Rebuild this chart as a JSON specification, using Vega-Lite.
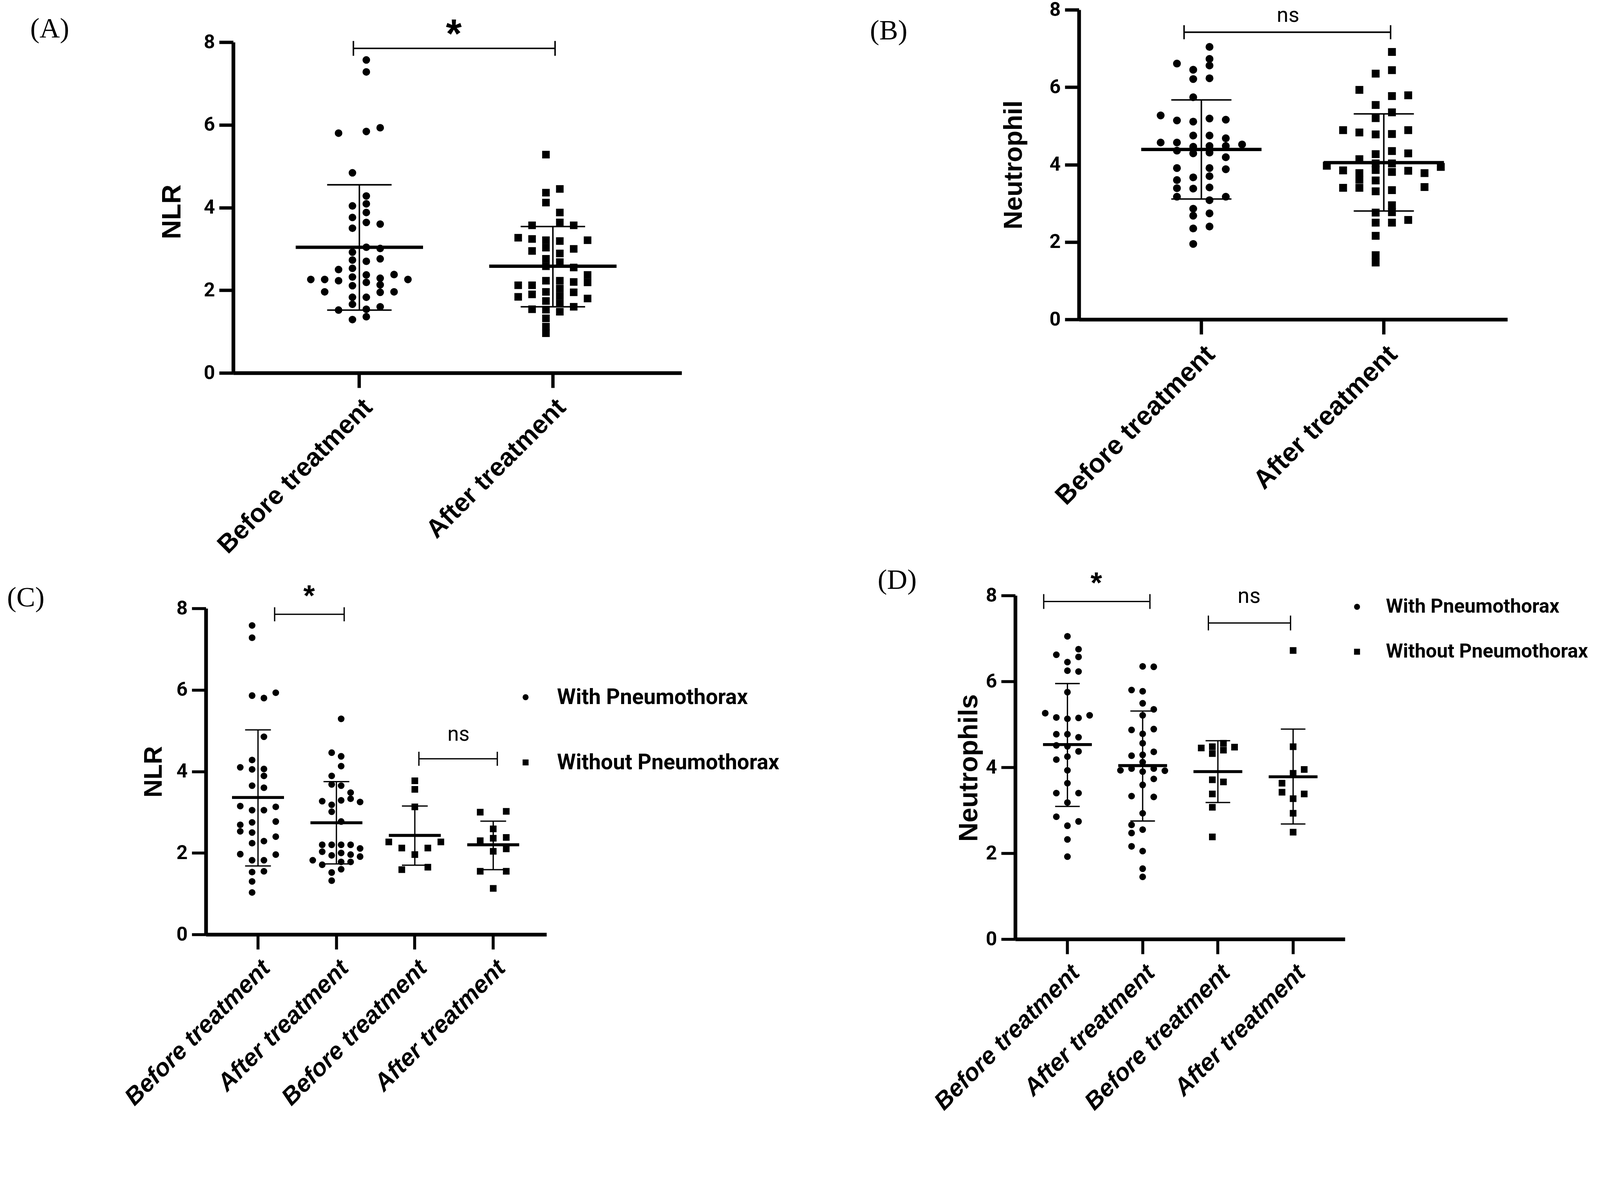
{
"$schema":"https://vega.github.io/schema/vega-lite/v6.json",
"width":4100,"height":2890,"autosize":{"type":"none"},"padding":0,"background":"white",
"config":{"view":{"stroke":null},"axis":{"grid":false,"domainColor":"black","tickColor":"black","labelColor":"black","titleColor":"black"},"legend":{"padding":0},"tick":{"opacity":1},"point":{"opacity":1}},
"datasets":{
"A":[
{"cat":"Before treatment","slot":0.5,"value":7.57},{"cat":"Before treatment","slot":0.5,"value":7.28},{"cat":"Before treatment","slot":-1.5,"value":5.80},{"cat":"Before treatment","slot":0.5,"value":5.84},{"cat":"Before treatment","slot":1.5,"value":5.93},{"cat":"Before treatment","slot":-0.5,"value":4.84},{"cat":"Before treatment","slot":0.5,"value":4.28},{"cat":"Before treatment","slot":-0.5,"value":4.04},{"cat":"Before treatment","slot":0.5,"value":4.09},{"cat":"Before treatment","slot":0.5,"value":3.88},{"cat":"Before treatment","slot":-0.5,"value":3.76},{"cat":"Before treatment","slot":0.5,"value":3.64},{"cat":"Before treatment","slot":1.5,"value":3.60},{"cat":"Before treatment","slot":-0.5,"value":3.50},{"cat":"Before treatment","slot":0.5,"value":3.04},{"cat":"Before treatment","slot":1.5,"value":3.01},{"cat":"Before treatment","slot":-0.5,"value":2.92},{"cat":"Before treatment","slot":-0.5,"value":2.73},{"cat":"Before treatment","slot":0.5,"value":2.70},{"cat":"Before treatment","slot":1.5,"value":2.76},{"cat":"Before treatment","slot":-1.5,"value":2.50},{"cat":"Before treatment","slot":-0.5,"value":2.53},{"cat":"Before treatment","slot":2.5,"value":2.38},{"cat":"Before treatment","slot":0.5,"value":2.37},{"cat":"Before treatment","slot":-3.5,"value":2.26},{"cat":"Before treatment","slot":-2.5,"value":2.26},{"cat":"Before treatment","slot":-1.5,"value":2.23},{"cat":"Before treatment","slot":-0.5,"value":2.32},{"cat":"Before treatment","slot":1.5,"value":2.29},{"cat":"Before treatment","slot":3.5,"value":2.26},{"cat":"Before treatment","slot":0.5,"value":2.19},{"cat":"Before treatment","slot":-0.5,"value":2.11},{"cat":"Before treatment","slot":1.5,"value":2.13},{"cat":"Before treatment","slot":-2.5,"value":1.96},{"cat":"Before treatment","slot":1.5,"value":1.95},{"cat":"Before treatment","slot":2.5,"value":1.96},{"cat":"Before treatment","slot":-0.5,"value":1.83},{"cat":"Before treatment","slot":0.5,"value":1.83},{"cat":"Before treatment","slot":-0.5,"value":1.66},{"cat":"Before treatment","slot":1.5,"value":1.60},{"cat":"Before treatment","slot":-1.5,"value":1.52},{"cat":"Before treatment","slot":0.5,"value":1.54},{"cat":"Before treatment","slot":-0.5,"value":1.29},{"cat":"Before treatment","slot":0.5,"value":1.36},
{"cat":"After treatment","slot":-0.5,"value":5.28},{"cat":"After treatment","slot":0.5,"value":4.45},{"cat":"After treatment","slot":-0.5,"value":4.36},{"cat":"After treatment","slot":-0.5,"value":4.12},{"cat":"After treatment","slot":0.5,"value":3.88},{"cat":"After treatment","slot":0.5,"value":3.64},{"cat":"After treatment","slot":-1.5,"value":3.57},{"cat":"After treatment","slot":1.5,"value":3.57},{"cat":"After treatment","slot":-2.5,"value":3.27},{"cat":"After treatment","slot":-1.5,"value":3.24},{"cat":"After treatment","slot":-0.5,"value":3.21},{"cat":"After treatment","slot":0.5,"value":3.19},{"cat":"After treatment","slot":2.5,"value":3.21},{"cat":"After treatment","slot":-0.5,"value":3.03},{"cat":"After treatment","slot":1.5,"value":3.00},{"cat":"After treatment","slot":-1.5,"value":2.95},{"cat":"After treatment","slot":0.5,"value":2.89},{"cat":"After treatment","slot":-0.5,"value":2.76},{"cat":"After treatment","slot":0.5,"value":2.68},{"cat":"After treatment","slot":-0.5,"value":2.58},{"cat":"After treatment","slot":1.5,"value":2.55},{"cat":"After treatment","slot":2.5,"value":2.37},{"cat":"After treatment","slot":2.5,"value":2.19},{"cat":"After treatment","slot":-0.5,"value":2.23},{"cat":"After treatment","slot":0.5,"value":2.23},{"cat":"After treatment","slot":1.5,"value":2.20},{"cat":"After treatment","slot":-2.5,"value":2.12},{"cat":"After treatment","slot":-1.5,"value":2.12},{"cat":"After treatment","slot":0.5,"value":2.04},{"cat":"After treatment","slot":-0.5,"value":1.96},{"cat":"After treatment","slot":1.5,"value":1.95},{"cat":"After treatment","slot":0.5,"value":1.86},{"cat":"After treatment","slot":-2.5,"value":1.84},{"cat":"After treatment","slot":-1.5,"value":1.90},{"cat":"After treatment","slot":2.5,"value":1.80},{"cat":"After treatment","slot":-0.5,"value":1.74},{"cat":"After treatment","slot":0.5,"value":1.68},{"cat":"After treatment","slot":1.5,"value":1.60},{"cat":"After treatment","slot":-1.5,"value":1.54},{"cat":"After treatment","slot":-0.5,"value":1.53},{"cat":"After treatment","slot":0.5,"value":1.48},{"cat":"After treatment","slot":-0.5,"value":1.32},{"cat":"After treatment","slot":-0.5,"value":1.12},{"cat":"After treatment","slot":-0.5,"value":0.96}
],
"Asum":[{"cat":"Before treatment","mean":3.04,"lo":1.52,"hi":4.55},{"cat":"After treatment","mean":2.58,"lo":1.60,"hi":3.54}],
"Abr":[{"x1":0.969,"x2":2.011,"y":7.85,"tx":1.488,"ty":7.87,"label":"*"}],
"B":[
{"cat":"Before treatment","slot":0.5,"value":7.04},{"cat":"Before treatment","slot":0.5,"value":6.73},{"cat":"Before treatment","slot":-1.5,"value":6.61},{"cat":"Before treatment","slot":0.5,"value":6.56},{"cat":"Before treatment","slot":-0.5,"value":6.45},{"cat":"Before treatment","slot":-0.5,"value":6.21},{"cat":"Before treatment","slot":0.5,"value":6.23},{"cat":"Before treatment","slot":-0.5,"value":5.74},{"cat":"Before treatment","slot":-2.5,"value":5.27},{"cat":"Before treatment","slot":-1.5,"value":5.14},{"cat":"Before treatment","slot":-0.5,"value":5.11},{"cat":"Before treatment","slot":0.5,"value":5.19},{"cat":"Before treatment","slot":1.5,"value":5.16},{"cat":"Before treatment","slot":-0.5,"value":4.75},{"cat":"Before treatment","slot":0.5,"value":4.75},{"cat":"Before treatment","slot":1.5,"value":4.68},{"cat":"Before treatment","slot":-2.5,"value":4.57},{"cat":"Before treatment","slot":-1.5,"value":4.57},{"cat":"Before treatment","slot":2.5,"value":4.52},{"cat":"Before treatment","slot":-0.5,"value":4.46},{"cat":"Before treatment","slot":0.5,"value":4.48},{"cat":"Before treatment","slot":1.5,"value":4.48},{"cat":"Before treatment","slot":-1.5,"value":4.36},{"cat":"Before treatment","slot":-0.5,"value":4.29},{"cat":"Before treatment","slot":0.5,"value":4.31},{"cat":"Before treatment","slot":1.5,"value":4.19},{"cat":"Before treatment","slot":-1.5,"value":3.91},{"cat":"Before treatment","slot":0.5,"value":3.91},{"cat":"Before treatment","slot":1.5,"value":3.88},{"cat":"Before treatment","slot":-0.5,"value":3.67},{"cat":"Before treatment","slot":0.5,"value":3.70},{"cat":"Before treatment","slot":-1.5,"value":3.60},{"cat":"Before treatment","slot":-1.5,"value":3.39},{"cat":"Before treatment","slot":-0.5,"value":3.38},{"cat":"Before treatment","slot":0.5,"value":3.41},{"cat":"Before treatment","slot":-1.5,"value":3.17},{"cat":"Before treatment","slot":1.5,"value":3.17},{"cat":"Before treatment","slot":0.5,"value":3.08},{"cat":"Before treatment","slot":-0.5,"value":2.86},{"cat":"Before treatment","slot":-0.5,"value":2.68},{"cat":"Before treatment","slot":0.5,"value":2.74},{"cat":"Before treatment","slot":-0.5,"value":2.35},{"cat":"Before treatment","slot":0.5,"value":2.40},{"cat":"Before treatment","slot":-0.5,"value":1.95},
{"cat":"After treatment","slot":0.5,"value":6.91},{"cat":"After treatment","slot":0.5,"value":6.44},{"cat":"After treatment","slot":-0.5,"value":6.35},{"cat":"After treatment","slot":-1.5,"value":5.93},{"cat":"After treatment","slot":0.5,"value":5.77},{"cat":"After treatment","slot":1.5,"value":5.79},{"cat":"After treatment","slot":-0.5,"value":5.54},{"cat":"After treatment","slot":0.5,"value":5.35},{"cat":"After treatment","slot":-0.5,"value":5.20},{"cat":"After treatment","slot":-2.5,"value":4.89},{"cat":"After treatment","slot":-1.5,"value":4.83},{"cat":"After treatment","slot":1.5,"value":4.89},{"cat":"After treatment","slot":-0.5,"value":4.78},{"cat":"After treatment","slot":0.5,"value":4.79},{"cat":"After treatment","slot":-0.5,"value":4.27},{"cat":"After treatment","slot":0.5,"value":4.35},{"cat":"After treatment","slot":1.5,"value":4.29},{"cat":"After treatment","slot":-1.5,"value":4.14},{"cat":"After treatment","slot":-0.5,"value":4.03},{"cat":"After treatment","slot":0.5,"value":4.03},{"cat":"After treatment","slot":-3.5,"value":3.97},{"cat":"After treatment","slot":3.5,"value":3.94},{"cat":"After treatment","slot":-2.5,"value":3.85},{"cat":"After treatment","slot":-1.5,"value":3.78},{"cat":"After treatment","slot":-0.5,"value":3.86},{"cat":"After treatment","slot":0.5,"value":3.81},{"cat":"After treatment","slot":1.5,"value":3.84},{"cat":"After treatment","slot":2.5,"value":3.78},{"cat":"After treatment","slot":-1.5,"value":3.61},{"cat":"After treatment","slot":-0.5,"value":3.59},{"cat":"After treatment","slot":-2.5,"value":3.40},{"cat":"After treatment","slot":-1.5,"value":3.40},{"cat":"After treatment","slot":2.5,"value":3.42},{"cat":"After treatment","slot":-0.5,"value":3.31},{"cat":"After treatment","slot":0.5,"value":3.34},{"cat":"After treatment","slot":0.5,"value":2.95},{"cat":"After treatment","slot":-0.5,"value":2.76},{"cat":"After treatment","slot":0.5,"value":2.77},{"cat":"After treatment","slot":-0.5,"value":2.50},{"cat":"After treatment","slot":0.5,"value":2.50},{"cat":"After treatment","slot":1.5,"value":2.57},{"cat":"After treatment","slot":-0.5,"value":2.16},{"cat":"After treatment","slot":-0.5,"value":1.66},{"cat":"After treatment","slot":-0.5,"value":1.47}
],
"Bsum":[{"cat":"Before treatment","mean":4.39,"lo":3.11,"hi":5.67},{"cat":"After treatment","mean":4.05,"lo":2.80,"hi":5.31}],
"Bbr":[{"x1":0.905,"x2":2.037,"y":7.42,"tx":1.475,"ty":7.69,"label":"ns"}],
"C":[
{"cat":"With: Before treatment","group":"With Pneumothorax","slot":-0.5,"value":7.58},{"cat":"With: Before treatment","group":"With Pneumothorax","slot":-0.5,"value":7.28},{"cat":"With: Before treatment","group":"With Pneumothorax","slot":-0.5,"value":5.86},{"cat":"With: Before treatment","group":"With Pneumothorax","slot":0.5,"value":5.80},{"cat":"With: Before treatment","group":"With Pneumothorax","slot":1.5,"value":5.93},{"cat":"With: Before treatment","group":"With Pneumothorax","slot":0.5,"value":4.85},{"cat":"With: Before treatment","group":"With Pneumothorax","slot":-0.5,"value":4.28},{"cat":"With: Before treatment","group":"With Pneumothorax","slot":-1.5,"value":4.10},{"cat":"With: Before treatment","group":"With Pneumothorax","slot":-0.5,"value":4.05},{"cat":"With: Before treatment","group":"With Pneumothorax","slot":0.5,"value":4.06},{"cat":"With: Before treatment","group":"With Pneumothorax","slot":0.5,"value":3.89},{"cat":"With: Before treatment","group":"With Pneumothorax","slot":-0.5,"value":3.65},{"cat":"With: Before treatment","group":"With Pneumothorax","slot":0.5,"value":3.60},{"cat":"With: Before treatment","group":"With Pneumothorax","slot":-1.5,"value":3.15},{"cat":"With: Before treatment","group":"With Pneumothorax","slot":-0.5,"value":3.05},{"cat":"With: Before treatment","group":"With Pneumothorax","slot":0.5,"value":3.05},{"cat":"With: Before treatment","group":"With Pneumothorax","slot":1.5,"value":3.13},{"cat":"With: Before treatment","group":"With Pneumothorax","slot":-0.5,"value":2.75},{"cat":"With: Before treatment","group":"With Pneumothorax","slot":1.5,"value":2.77},{"cat":"With: Before treatment","group":"With Pneumothorax","slot":-1.5,"value":2.69},{"cat":"With: Before treatment","group":"With Pneumothorax","slot":-1.5,"value":2.53},{"cat":"With: Before treatment","group":"With Pneumothorax","slot":-0.5,"value":2.50},{"cat":"With: Before treatment","group":"With Pneumothorax","slot":1.5,"value":2.40},{"cat":"With: Before treatment","group":"With Pneumothorax","slot":0.5,"value":2.29},{"cat":"With: Before treatment","group":"With Pneumothorax","slot":-0.5,"value":2.24},{"cat":"With: Before treatment","group":"With Pneumothorax","slot":-1.5,"value":1.97},{"cat":"With: Before treatment","group":"With Pneumothorax","slot":1.5,"value":1.96},{"cat":"With: Before treatment","group":"With Pneumothorax","slot":-0.5,"value":1.82},{"cat":"With: Before treatment","group":"With Pneumothorax","slot":0.5,"value":1.82},{"cat":"With: Before treatment","group":"With Pneumothorax","slot":-0.5,"value":1.53},{"cat":"With: Before treatment","group":"With Pneumothorax","slot":0.5,"value":1.55},{"cat":"With: Before treatment","group":"With Pneumothorax","slot":-0.5,"value":1.30},{"cat":"With: Before treatment","group":"With Pneumothorax","slot":-0.5,"value":1.03},
{"cat":"With: After treatment","group":"With Pneumothorax","slot":0.4,"value":5.29},{"cat":"With: After treatment","group":"With Pneumothorax","slot":-0.4,"value":4.46},{"cat":"With: After treatment","group":"With Pneumothorax","slot":0.4,"value":4.37},{"cat":"With: After treatment","group":"With Pneumothorax","slot":0.4,"value":4.13},{"cat":"With: After treatment","group":"With Pneumothorax","slot":-0.4,"value":3.89},{"cat":"With: After treatment","group":"With Pneumothorax","slot":-0.4,"value":3.68},{"cat":"With: After treatment","group":"With Pneumothorax","slot":0.4,"value":3.65},{"cat":"With: After treatment","group":"With Pneumothorax","slot":1.2,"value":3.48},{"cat":"With: After treatment","group":"With Pneumothorax","slot":1.2,"value":3.33},{"cat":"With: After treatment","group":"With Pneumothorax","slot":-1.2,"value":3.27},{"cat":"With: After treatment","group":"With Pneumothorax","slot":0.4,"value":3.29},{"cat":"With: After treatment","group":"With Pneumothorax","slot":2.0,"value":3.25},{"cat":"With: After treatment","group":"With Pneumothorax","slot":-0.4,"value":3.18},{"cat":"With: After treatment","group":"With Pneumothorax","slot":-0.4,"value":3.01},{"cat":"With: After treatment","group":"With Pneumothorax","slot":0.4,"value":2.77},{"cat":"With: After treatment","group":"With Pneumothorax","slot":-1.2,"value":2.20},{"cat":"With: After treatment","group":"With Pneumothorax","slot":-0.4,"value":2.20},{"cat":"With: After treatment","group":"With Pneumothorax","slot":0.4,"value":2.20},{"cat":"With: After treatment","group":"With Pneumothorax","slot":1.2,"value":2.20},{"cat":"With: After treatment","group":"With Pneumothorax","slot":2.0,"value":2.11},{"cat":"With: After treatment","group":"With Pneumothorax","slot":-1.2,"value":2.03},{"cat":"With: After treatment","group":"With Pneumothorax","slot":-0.4,"value":1.94},{"cat":"With: After treatment","group":"With Pneumothorax","slot":0.4,"value":2.00},{"cat":"With: After treatment","group":"With Pneumothorax","slot":1.2,"value":1.96},{"cat":"With: After treatment","group":"With Pneumothorax","slot":2.0,"value":1.91},{"cat":"With: After treatment","group":"With Pneumothorax","slot":-2.0,"value":1.82},{"cat":"With: After treatment","group":"With Pneumothorax","slot":-1.2,"value":1.71},{"cat":"With: After treatment","group":"With Pneumothorax","slot":0.4,"value":1.78},{"cat":"With: After treatment","group":"With Pneumothorax","slot":1.2,"value":1.78},{"cat":"With: After treatment","group":"With Pneumothorax","slot":-0.4,"value":1.52},{"cat":"With: After treatment","group":"With Pneumothorax","slot":0.4,"value":1.60},{"cat":"With: After treatment","group":"With Pneumothorax","slot":-0.4,"value":1.32},
{"cat":"Without: Before treatment","group":"Without Pneumothorax","slot":0,"value":3.77},{"cat":"Without: Before treatment","group":"Without Pneumothorax","slot":0,"value":3.56},{"cat":"Without: Before treatment","group":"Without Pneumothorax","slot":0,"value":3.13},{"cat":"Without: Before treatment","group":"Without Pneumothorax","slot":-2.2,"value":2.27},{"cat":"Without: Before treatment","group":"Without Pneumothorax","slot":2.2,"value":2.27},{"cat":"Without: Before treatment","group":"Without Pneumothorax","slot":-1.1,"value":2.12},{"cat":"Without: Before treatment","group":"Without Pneumothorax","slot":1.1,"value":2.12},{"cat":"Without: Before treatment","group":"Without Pneumothorax","slot":0,"value":1.96},{"cat":"Without: Before treatment","group":"Without Pneumothorax","slot":-1.1,"value":1.59},{"cat":"Without: Before treatment","group":"Without Pneumothorax","slot":1.1,"value":1.65},
{"cat":"Without: After treatment","group":"Without Pneumothorax","slot":-1.1,"value":3.00},{"cat":"Without: After treatment","group":"Without Pneumothorax","slot":1.1,"value":3.02},{"cat":"Without: After treatment","group":"Without Pneumothorax","slot":0,"value":2.59},{"cat":"Without: After treatment","group":"Without Pneumothorax","slot":-1.1,"value":2.30},{"cat":"Without: After treatment","group":"Without Pneumothorax","slot":0,"value":2.36},{"cat":"Without: After treatment","group":"Without Pneumothorax","slot":1.1,"value":2.38},{"cat":"Without: After treatment","group":"Without Pneumothorax","slot":0,"value":2.04},{"cat":"Without: After treatment","group":"Without Pneumothorax","slot":1.1,"value":2.10},{"cat":"Without: After treatment","group":"Without Pneumothorax","slot":-1.1,"value":1.55},{"cat":"Without: After treatment","group":"Without Pneumothorax","slot":1.1,"value":1.55},{"cat":"Without: After treatment","group":"Without Pneumothorax","slot":0,"value":1.13}
],
"Csum":[{"cat":"With: Before treatment","mean":3.36,"lo":1.68,"hi":5.02},{"cat":"With: After treatment","mean":2.74,"lo":1.73,"hi":3.75},{"cat":"Without: Before treatment","mean":2.43,"lo":1.70,"hi":3.15},{"cat":"Without: After treatment","mean":2.20,"lo":1.59,"hi":2.78}],
"Cbr":[{"x1":1.212,"x2":2.099,"y":7.855,"tx":1.651,"ty":8.07,"label":"*"},{"x1":3.052,"x2":4.052,"y":4.31,"tx":3.557,"ty":4.75,"label":"ns"}],
"D":[
{"cat":"With: Before treatment","group":"With Pneumothorax","slot":0,"value":7.05},{"cat":"With: Before treatment","group":"With Pneumothorax","slot":-1,"value":6.62},{"cat":"With: Before treatment","group":"With Pneumothorax","slot":1,"value":6.75},{"cat":"With: Before treatment","group":"With Pneumothorax","slot":1,"value":6.57},{"cat":"With: Before treatment","group":"With Pneumothorax","slot":0,"value":6.45},{"cat":"With: Before treatment","group":"With Pneumothorax","slot":0,"value":6.25},{"cat":"With: Before treatment","group":"With Pneumothorax","slot":1,"value":6.23},{"cat":"With: Before treatment","group":"With Pneumothorax","slot":0,"value":5.75},{"cat":"With: Before treatment","group":"With Pneumothorax","slot":-2,"value":5.26},{"cat":"With: Before treatment","group":"With Pneumothorax","slot":-1,"value":5.16},{"cat":"With: Before treatment","group":"With Pneumothorax","slot":0,"value":5.13},{"cat":"With: Before treatment","group":"With Pneumothorax","slot":1,"value":5.15},{"cat":"With: Before treatment","group":"With Pneumothorax","slot":2,"value":5.21},{"cat":"With: Before treatment","group":"With Pneumothorax","slot":-1,"value":4.77},{"cat":"With: Before treatment","group":"With Pneumothorax","slot":0,"value":4.77},{"cat":"With: Before treatment","group":"With Pneumothorax","slot":1,"value":4.70},{"cat":"With: Before treatment","group":"With Pneumothorax","slot":-1,"value":4.51},{"cat":"With: Before treatment","group":"With Pneumothorax","slot":0,"value":4.49},{"cat":"With: Before treatment","group":"With Pneumothorax","slot":1,"value":4.37},{"cat":"With: Before treatment","group":"With Pneumothorax","slot":-1,"value":4.18},{"cat":"With: Before treatment","group":"With Pneumothorax","slot":0,"value":4.25},{"cat":"With: Before treatment","group":"With Pneumothorax","slot":0,"value":3.93},{"cat":"With: Before treatment","group":"With Pneumothorax","slot":0,"value":3.63},{"cat":"With: Before treatment","group":"With Pneumothorax","slot":-1,"value":3.40},{"cat":"With: Before treatment","group":"With Pneumothorax","slot":1,"value":3.40},{"cat":"With: Before treatment","group":"With Pneumothorax","slot":0,"value":3.18},{"cat":"With: Before treatment","group":"With Pneumothorax","slot":-1,"value":2.85},{"cat":"With: Before treatment","group":"With Pneumothorax","slot":1,"value":2.74},{"cat":"With: Before treatment","group":"With Pneumothorax","slot":0,"value":2.64},{"cat":"With: Before treatment","group":"With Pneumothorax","slot":0,"value":2.32},{"cat":"With: Before treatment","group":"With Pneumothorax","slot":0,"value":1.92},
{"cat":"With: After treatment","group":"With Pneumothorax","slot":0,"value":6.35},{"cat":"With: After treatment","group":"With Pneumothorax","slot":1,"value":6.34},{"cat":"With: After treatment","group":"With Pneumothorax","slot":-1,"value":5.80},{"cat":"With: After treatment","group":"With Pneumothorax","slot":0,"value":5.77},{"cat":"With: After treatment","group":"With Pneumothorax","slot":0,"value":5.49},{"cat":"With: After treatment","group":"With Pneumothorax","slot":1,"value":5.35},{"cat":"With: After treatment","group":"With Pneumothorax","slot":0,"value":5.21},{"cat":"With: After treatment","group":"With Pneumothorax","slot":-1,"value":4.87},{"cat":"With: After treatment","group":"With Pneumothorax","slot":1,"value":4.89},{"cat":"With: After treatment","group":"With Pneumothorax","slot":0,"value":4.78},{"cat":"With: After treatment","group":"With Pneumothorax","slot":0,"value":4.56},{"cat":"With: After treatment","group":"With Pneumothorax","slot":-1,"value":4.27},{"cat":"With: After treatment","group":"With Pneumothorax","slot":0,"value":4.29},{"cat":"With: After treatment","group":"With Pneumothorax","slot":1,"value":4.36},{"cat":"With: After treatment","group":"With Pneumothorax","slot":0,"value":4.12},{"cat":"With: After treatment","group":"With Pneumothorax","slot":-2,"value":3.93},{"cat":"With: After treatment","group":"With Pneumothorax","slot":-1,"value":3.97},{"cat":"With: After treatment","group":"With Pneumothorax","slot":0,"value":3.90},{"cat":"With: After treatment","group":"With Pneumothorax","slot":1,"value":3.97},{"cat":"With: After treatment","group":"With Pneumothorax","slot":2,"value":3.92},{"cat":"With: After treatment","group":"With Pneumothorax","slot":1,"value":3.73},{"cat":"With: After treatment","group":"With Pneumothorax","slot":0,"value":3.59},{"cat":"With: After treatment","group":"With Pneumothorax","slot":-1,"value":3.33},{"cat":"With: After treatment","group":"With Pneumothorax","slot":1,"value":3.31},{"cat":"With: After treatment","group":"With Pneumothorax","slot":0,"value":2.93},{"cat":"With: After treatment","group":"With Pneumothorax","slot":-1,"value":2.66},{"cat":"With: After treatment","group":"With Pneumothorax","slot":-1,"value":2.47},{"cat":"With: After treatment","group":"With Pneumothorax","slot":0,"value":2.55},{"cat":"With: After treatment","group":"With Pneumothorax","slot":-1,"value":2.16},{"cat":"With: After treatment","group":"With Pneumothorax","slot":0,"value":2.05},{"cat":"With: After treatment","group":"With Pneumothorax","slot":0,"value":1.64},{"cat":"With: After treatment","group":"With Pneumothorax","slot":0,"value":1.45},
{"cat":"Without: Before treatment","group":"Without Pneumothorax","slot":-1.5,"value":4.45},{"cat":"Without: Before treatment","group":"Without Pneumothorax","slot":-0.5,"value":4.48},{"cat":"Without: Before treatment","group":"Without Pneumothorax","slot":0.5,"value":4.56},{"cat":"Without: Before treatment","group":"Without Pneumothorax","slot":1.5,"value":4.47},{"cat":"Without: Before treatment","group":"Without Pneumothorax","slot":-0.5,"value":4.32},{"cat":"Without: Before treatment","group":"Without Pneumothorax","slot":0.5,"value":4.40},{"cat":"Without: Before treatment","group":"Without Pneumothorax","slot":-0.5,"value":3.71},{"cat":"Without: Before treatment","group":"Without Pneumothorax","slot":0.5,"value":3.66},{"cat":"Without: Before treatment","group":"Without Pneumothorax","slot":-0.5,"value":3.38},{"cat":"Without: Before treatment","group":"Without Pneumothorax","slot":-0.5,"value":3.07},{"cat":"Without: Before treatment","group":"Without Pneumothorax","slot":-0.5,"value":2.38},
{"cat":"Without: After treatment","group":"Without Pneumothorax","slot":0,"value":6.72},{"cat":"Without: After treatment","group":"Without Pneumothorax","slot":0,"value":4.48},{"cat":"Without: After treatment","group":"Without Pneumothorax","slot":1,"value":3.95},{"cat":"Without: After treatment","group":"Without Pneumothorax","slot":0,"value":3.86},{"cat":"Without: After treatment","group":"Without Pneumothorax","slot":-1,"value":3.63},{"cat":"Without: After treatment","group":"Without Pneumothorax","slot":-1,"value":3.42},{"cat":"Without: After treatment","group":"Without Pneumothorax","slot":1,"value":3.38},{"cat":"Without: After treatment","group":"Without Pneumothorax","slot":0,"value":3.27},{"cat":"Without: After treatment","group":"Without Pneumothorax","slot":0,"value":2.93},{"cat":"Without: After treatment","group":"Without Pneumothorax","slot":0,"value":2.49}
],
"Dsum":[{"cat":"With: Before treatment","mean":4.53,"lo":3.09,"hi":5.95},{"cat":"With: After treatment","mean":4.04,"lo":2.75,"hi":5.31},{"cat":"Without: Before treatment","mean":3.90,"lo":3.18,"hi":4.62},{"cat":"Without: After treatment","mean":3.78,"lo":2.68,"hi":4.89}],
"Dbr":[{"x1":0.685,"x2":2.097,"y":7.86,"tx":1.384,"ty":8.06,"label":"*"},{"x1":2.874,"x2":3.966,"y":7.36,"tx":3.415,"ty":7.83,"label":"ns"}]
},
"layer":[
{"data":{"name":"A"},"mark":{"type":"point","filled":true,"color":"black","opacity":1,"size":377,"strokeWidth":0},
 "encoding":{
  "x":{"field":"cat","type":"nominal","scale":{"type":"band","domain":["Before treatment","After treatment"],"range":[597,1745],"paddingInner":0.4264,"paddingOuter":0.3719,"align":0.491},
   "axis":{"orient":"bottom","offset":-1935,"title":null,"labelAngle":-45,"labelFont":"Liberation Sans","labelFontWeight":"bold","labelFontSize":66,"labelPadding":17,"labelLimit":3000,"labelOverlap":false,"labelBound":false,"tickSize":38,"tickWidth":8.5,"domainWidth":9.5}},
  "xOffset":{"field":"slot","type":"quantitative","scale":{"domain":[-4,4]}},
  "y":{"field":"value","type":"quantitative","scale":{"domain":[0,8],"range":[955,108],"nice":false,"zero":false},
   "axis":{"orient":"left","offset":-597,"values":[0,2,4,6,8],"format":"d","title":"NLR","titleX":-156,"titleY":542,"titleAngle":-90,"titleAlign":"center","titleBaseline":"middle","titleFont":"Liberation Sans","titleFontWeight":"bold","titleFontSize":68,"labelFont":"Roboto","labelFontWeight":"bold","labelFontSize":50,"labelPadding":11,"tickSize":36,"tickWidth":8.5,"domainWidth":9.5}},
  "shape":{"field":"cat","type":"nominal","scale":{"domain":["Before treatment","After treatment"],"range":["circle","square"]},"legend":null}}},
{"data":{"name":"Asum"},"mark":{"type":"tick","color":"black","opacity":1,"thickness":8.5,"size":326},"encoding":{"x":{"field":"cat","type":"nominal","scale":{"type":"band","domain":["Before treatment","After treatment"],"range":[597,1745],"paddingInner":0.4264,"paddingOuter":0.3719,"align":0.491},"axis":null},"y":{"field":"mean","type":"quantitative","scale":{"domain":[0,8],"range":[955,108],"nice":false,"zero":false},"axis":null}}},
{"data":{"name":"Asum"},"mark":{"type":"rule","color":"black","strokeWidth":3.8},"encoding":{"x":{"field":"cat","type":"nominal","scale":{"type":"band","domain":["Before treatment","After treatment"],"range":[597,1745],"paddingInner":0.4264,"paddingOuter":0.3719,"align":0.491},"axis":null},"y":{"field":"lo","type":"quantitative","scale":{"domain":[0,8],"range":[955,108],"nice":false,"zero":false},"axis":null},"y2":{"field":"hi"}}},
{"data":{"name":"Asum"},"mark":{"type":"tick","color":"black","opacity":1,"thickness":3.8,"size":165},"encoding":{"x":{"field":"cat","type":"nominal","scale":{"type":"band","domain":["Before treatment","After treatment"],"range":[597,1745],"paddingInner":0.4264,"paddingOuter":0.3719,"align":0.491},"axis":null},"y":{"field":"lo","type":"quantitative","scale":{"domain":[0,8],"range":[955,108],"nice":false,"zero":false},"axis":null}}},
{"data":{"name":"Asum"},"mark":{"type":"tick","color":"black","opacity":1,"thickness":3.8,"size":165},"encoding":{"x":{"field":"cat","type":"nominal","scale":{"type":"band","domain":["Before treatment","After treatment"],"range":[597,1745],"paddingInner":0.4264,"paddingOuter":0.3719,"align":0.491},"axis":null},"y":{"field":"hi","type":"quantitative","scale":{"domain":[0,8],"range":[955,108],"nice":false,"zero":false},"axis":null}}},
{"data":{"name":"Abr"},"mark":{"type":"rule","color":"black","strokeWidth":3.8},"encoding":{"x":{"field":"x1","type":"quantitative","scale":{"domain":[0.348,2.665],"range":[597,1745],"nice":false,"zero":false},"axis":null},"x2":{"field":"x2"},"y":{"field":"y","type":"quantitative","scale":{"domain":[0,8],"range":[955,108],"nice":false,"zero":false},"axis":null}}},
{"data":{"name":"Abr"},"mark":{"type":"tick","orient":"vertical","color":"black","opacity":1,"thickness":3.8,"size":38},"encoding":{"x":{"field":"x1","type":"quantitative","scale":{"domain":[0.348,2.665],"range":[597,1745],"nice":false,"zero":false},"axis":null},"y":{"field":"y","type":"quantitative","scale":{"domain":[0,8],"range":[955,108],"nice":false,"zero":false},"axis":null}}},
{"data":{"name":"Abr"},"mark":{"type":"tick","orient":"vertical","color":"black","opacity":1,"thickness":3.8,"size":38},"encoding":{"x":{"field":"x2","type":"quantitative","scale":{"domain":[0.348,2.665],"range":[597,1745],"nice":false,"zero":false},"axis":null},"y":{"field":"y","type":"quantitative","scale":{"domain":[0,8],"range":[955,108],"nice":false,"zero":false},"axis":null}}},
{"data":{"name":"Abr"},"mark":{"type":"text","font":"Liberation Sans","fontWeight":"bold","fontSize":104,"align":"center","baseline":"alphabetic","color":"black"},"encoding":{"x":{"field":"tx","type":"quantitative","scale":{"domain":[0.348,2.665],"range":[597,1745],"nice":false,"zero":false},"axis":null},"y":{"field":"ty","type":"quantitative","scale":{"domain":[0,8],"range":[955,108],"nice":false,"zero":false},"axis":null},"text":{"field":"label"}}},
{"data":{"values":[{"label":"(A)","tx":-0.6,"ty":8.32}]},"mark":{"type":"text","font":"Liberation Serif","fontSize":72,"align":"center","baseline":"middle","color":"black"},"encoding":{"x":{"field":"tx","type":"quantitative","scale":{"domain":[0.348,2.665],"range":[597,1745],"nice":false,"zero":false},"axis":null},"y":{"field":"ty","type":"quantitative","scale":{"domain":[0,8],"range":[955,108],"nice":false,"zero":false},"axis":null},"text":{"field":"label"}}},

{"data":{"name":"B"},"mark":{"type":"point","filled":true,"color":"black","opacity":1,"size":404,"strokeWidth":0},
 "encoding":{
  "x":{"field":"cat","type":"nominal","scale":{"type":"band","domain":["Before treatment","After treatment"],"range":[2762,3859],"paddingInner":0.286,"paddingOuter":0.3174,"align":0.495},
   "axis":{"orient":"bottom","offset":-2072,"title":null,"labelAngle":-45,"labelFont":"Liberation Sans","labelFontWeight":"bold","labelFontSize":68,"labelPadding":17,"labelLimit":3000,"labelOverlap":false,"labelBound":false,"tickSize":38,"tickWidth":8.5,"domainWidth":9.5}},
  "xOffset":{"field":"slot","type":"quantitative","scale":{"domain":[-4,4]}},
  "y":{"field":"value","type":"quantitative","scale":{"domain":[0,8],"range":[818,25],"nice":false,"zero":false},
   "axis":{"orient":"left","offset":-2762,"values":[0,2,4,6,8],"format":"d","title":"Neutrophil","titleX":-167,"titleY":422,"titleAngle":-90,"titleAlign":"center","titleBaseline":"middle","titleFont":"Liberation Sans","titleFontWeight":"bold","titleFontSize":66,"labelFont":"Roboto","labelFontWeight":"bold","labelFontSize":50,"labelPadding":11,"tickSize":36,"tickWidth":8.5,"domainWidth":9.5}},
  "shape":{"field":"cat","type":"nominal","scale":{"domain":["Before treatment","After treatment"],"range":["circle","square"]},"legend":null}}},
{"data":{"name":"Bsum"},"mark":{"type":"tick","color":"black","opacity":1,"thickness":8.5,"size":308},"encoding":{"x":{"field":"cat","type":"nominal","scale":{"type":"band","domain":["Before treatment","After treatment"],"range":[2762,3859],"paddingInner":0.286,"paddingOuter":0.3174,"align":0.495},"axis":null},"y":{"field":"mean","type":"quantitative","scale":{"domain":[0,8],"range":[818,25],"nice":false,"zero":false},"axis":null}}},
{"data":{"name":"Bsum"},"mark":{"type":"rule","color":"black","strokeWidth":3.8},"encoding":{"x":{"field":"cat","type":"nominal","scale":{"type":"band","domain":["Before treatment","After treatment"],"range":[2762,3859],"paddingInner":0.286,"paddingOuter":0.3174,"align":0.495},"axis":null},"y":{"field":"lo","type":"quantitative","scale":{"domain":[0,8],"range":[818,25],"nice":false,"zero":false},"axis":null},"y2":{"field":"hi"}}},
{"data":{"name":"Bsum"},"mark":{"type":"tick","color":"black","opacity":1,"thickness":3.8,"size":154},"encoding":{"x":{"field":"cat","type":"nominal","scale":{"type":"band","domain":["Before treatment","After treatment"],"range":[2762,3859],"paddingInner":0.286,"paddingOuter":0.3174,"align":0.495},"axis":null},"y":{"field":"lo","type":"quantitative","scale":{"domain":[0,8],"range":[818,25],"nice":false,"zero":false},"axis":null}}},
{"data":{"name":"Bsum"},"mark":{"type":"tick","color":"black","opacity":1,"thickness":3.8,"size":154},"encoding":{"x":{"field":"cat","type":"nominal","scale":{"type":"band","domain":["Before treatment","After treatment"],"range":[2762,3859],"paddingInner":0.286,"paddingOuter":0.3174,"align":0.495},"axis":null},"y":{"field":"hi","type":"quantitative","scale":{"domain":[0,8],"range":[818,25],"nice":false,"zero":false},"axis":null}}},
{"data":{"name":"Bbr"},"mark":{"type":"rule","color":"black","strokeWidth":3.8},"encoding":{"x":{"field":"x1","type":"quantitative","scale":{"domain":[0.3286,2.6775],"range":[2762,3859],"nice":false,"zero":false},"axis":null},"x2":{"field":"x2"},"y":{"field":"y","type":"quantitative","scale":{"domain":[0,8],"range":[818,25],"nice":false,"zero":false},"axis":null}}},
{"data":{"name":"Bbr"},"mark":{"type":"tick","orient":"vertical","color":"black","opacity":1,"thickness":3.8,"size":36},"encoding":{"x":{"field":"x1","type":"quantitative","scale":{"domain":[0.3286,2.6775],"range":[2762,3859],"nice":false,"zero":false},"axis":null},"y":{"field":"y","type":"quantitative","scale":{"domain":[0,8],"range":[818,25],"nice":false,"zero":false},"axis":null}}},
{"data":{"name":"Bbr"},"mark":{"type":"tick","orient":"vertical","color":"black","opacity":1,"thickness":3.8,"size":36},"encoding":{"x":{"field":"x2","type":"quantitative","scale":{"domain":[0.3286,2.6775],"range":[2762,3859],"nice":false,"zero":false},"axis":null},"y":{"field":"y","type":"quantitative","scale":{"domain":[0,8],"range":[818,25],"nice":false,"zero":false},"axis":null}}},
{"data":{"name":"Bbr"},"mark":{"type":"text","font":"Roboto","fontSize":54,"align":"center","baseline":"alphabetic","color":"black"},"encoding":{"x":{"field":"tx","type":"quantitative","scale":{"domain":[0.3286,2.6775],"range":[2762,3859],"nice":false,"zero":false},"axis":null},"y":{"field":"ty","type":"quantitative","scale":{"domain":[0,8],"range":[818,25],"nice":false,"zero":false},"axis":null},"text":{"field":"label"}}},
{"data":{"values":[{"label":"(B)","tx":-0.714,"ty":7.46}]},"mark":{"type":"text","font":"Liberation Serif","fontSize":72,"align":"center","baseline":"middle","color":"black"},"encoding":{"x":{"field":"tx","type":"quantitative","scale":{"domain":[0.3286,2.6775],"range":[2762,3859],"nice":false,"zero":false},"axis":null},"y":{"field":"ty","type":"quantitative","scale":{"domain":[0,8],"range":[818,25],"nice":false,"zero":false},"axis":null},"text":{"field":"label"}}},

{"data":{"name":"C"},"mark":{"type":"point","filled":true,"color":"black","opacity":1,"size":291,"strokeWidth":0},
 "encoding":{
  "x":{"field":"cat","type":"nominal","scale":{"type":"band","domain":["With: Before treatment","With: After treatment","Without: Before treatment","Without: After treatment"],"range":[527,1399],"paddingInner":0.2453,"paddingOuter":0.2948,"align":0.488},
   "axis":{"orient":"bottom","offset":-497,"title":null,"labelExpr":"split(datum.value, ': ')[1]","labelAngle":-45,"labelFont":"Liberation Sans","labelFontWeight":"bold","labelFontStyle":"italic","labelFontSize":62,"labelPadding":17,"labelLimit":3000,"labelOverlap":false,"labelBound":false,"tickSize":38,"tickWidth":7.6,"domainWidth":9.5}},
  "xOffset":{"field":"slot","type":"quantitative","scale":{"domain":[-2.5,2.5]}},
  "y":{"field":"value","type":"quantitative","scale":{"domain":[0,8],"range":[2393,1558],"nice":false,"zero":false},
   "axis":{"orient":"left","offset":-527,"values":[0,2,4,6,8],"format":"d","title":"NLR","titleX":-133,"titleY":1976,"titleAngle":-90,"titleAlign":"center","titleBaseline":"middle","titleFont":"Liberation Sans","titleFontWeight":"bold","titleFontSize":64,"labelFont":"Roboto","labelFontWeight":"bold","labelFontSize":50,"labelPadding":11,"tickSize":36,"tickWidth":7.6,"domainWidth":9.5}},
  "shape":{"field":"group","type":"nominal","scale":{"domain":["With Pneumothorax","Without Pneumothorax"],"range":["circle","square"]},
   "legend":{"orient":"none","legendX":1318,"legendY":1758,"direction":"vertical","title":null,"labelFont":"Roboto","labelFontWeight":"bold","labelFontSize":55,"labelColor":"black","labelLimit":3000,"labelOffset":53,"rowPadding":111,"symbolSize":233,"symbolFillColor":"black","symbolStrokeColor":"black","symbolStrokeWidth":0,"padding":0}}}},
{"data":{"name":"Csum"},"mark":{"type":"tick","color":"black","opacity":1,"thickness":7.6,"size":133},"encoding":{"x":{"field":"cat","type":"nominal","scale":{"type":"band","domain":["With: Before treatment","With: After treatment","Without: Before treatment","Without: After treatment"],"range":[527,1399],"paddingInner":0.2453,"paddingOuter":0.2948,"align":0.488},"axis":null},"y":{"field":"mean","type":"quantitative","scale":{"domain":[0,8],"range":[2393,1558],"nice":false,"zero":false},"axis":null}}},
{"data":{"name":"Csum"},"mark":{"type":"rule","color":"black","strokeWidth":3.3},"encoding":{"x":{"field":"cat","type":"nominal","scale":{"type":"band","domain":["With: Before treatment","With: After treatment","Without: Before treatment","Without: After treatment"],"range":[527,1399],"paddingInner":0.2453,"paddingOuter":0.2948,"align":0.488},"axis":null},"y":{"field":"lo","type":"quantitative","scale":{"domain":[0,8],"range":[2393,1558],"nice":false,"zero":false},"axis":null},"y2":{"field":"hi"}}},
{"data":{"name":"Csum"},"mark":{"type":"tick","color":"black","opacity":1,"thickness":3.3,"size":66},"encoding":{"x":{"field":"cat","type":"nominal","scale":{"type":"band","domain":["With: Before treatment","With: After treatment","Without: Before treatment","Without: After treatment"],"range":[527,1399],"paddingInner":0.2453,"paddingOuter":0.2948,"align":0.488},"axis":null},"y":{"field":"lo","type":"quantitative","scale":{"domain":[0,8],"range":[2393,1558],"nice":false,"zero":false},"axis":null}}},
{"data":{"name":"Csum"},"mark":{"type":"tick","color":"black","opacity":1,"thickness":3.3,"size":66},"encoding":{"x":{"field":"cat","type":"nominal","scale":{"type":"band","domain":["With: Before treatment","With: After treatment","Without: Before treatment","Without: After treatment"],"range":[527,1399],"paddingInner":0.2453,"paddingOuter":0.2948,"align":0.488},"axis":null},"y":{"field":"hi","type":"quantitative","scale":{"domain":[0,8],"range":[2393,1558],"nice":false,"zero":false},"axis":null}}},
{"data":{"name":"Cbr"},"mark":{"type":"rule","color":"black","strokeWidth":3.3},"encoding":{"x":{"field":"x1","type":"quantitative","scale":{"domain":[0.3349,4.6792],"range":[527,1399],"nice":false,"zero":false},"axis":null},"x2":{"field":"x2"},"y":{"field":"y","type":"quantitative","scale":{"domain":[0,8],"range":[2393,1558],"nice":false,"zero":false},"axis":null}}},
{"data":{"name":"Cbr"},"mark":{"type":"tick","orient":"vertical","color":"black","opacity":1,"thickness":3.3,"size":36},"encoding":{"x":{"field":"x1","type":"quantitative","scale":{"domain":[0.3349,4.6792],"range":[527,1399],"nice":false,"zero":false},"axis":null},"y":{"field":"y","type":"quantitative","scale":{"domain":[0,8],"range":[2393,1558],"nice":false,"zero":false},"axis":null}}},
{"data":{"name":"Cbr"},"mark":{"type":"tick","orient":"vertical","color":"black","opacity":1,"thickness":3.3,"size":36},"encoding":{"x":{"field":"x2","type":"quantitative","scale":{"domain":[0.3349,4.6792],"range":[527,1399],"nice":false,"zero":false},"axis":null},"y":{"field":"y","type":"quantitative","scale":{"domain":[0,8],"range":[2393,1558],"nice":false,"zero":false},"axis":null}}},
{"data":{"name":"Cbr"},"transform":[{"filter":"datum.label == '*'"}],"mark":{"type":"text","font":"Liberation Sans","fontWeight":"bold","fontSize":76,"align":"center","baseline":"alphabetic","color":"black"},"encoding":{"x":{"field":"tx","type":"quantitative","scale":{"domain":[0.3349,4.6792],"range":[527,1399],"nice":false,"zero":false},"axis":null},"y":{"field":"ty","type":"quantitative","scale":{"domain":[0,8],"range":[2393,1558],"nice":false,"zero":false},"axis":null},"text":{"field":"label"}}},
{"data":{"name":"Cbr"},"transform":[{"filter":"datum.label == 'ns'"}],"mark":{"type":"text","font":"Roboto","fontSize":53,"align":"center","baseline":"alphabetic","color":"black"},"encoding":{"x":{"field":"tx","type":"quantitative","scale":{"domain":[0.3349,4.6792],"range":[527,1399],"nice":false,"zero":false},"axis":null},"y":{"field":"ty","type":"quantitative","scale":{"domain":[0,8],"range":[2393,1558],"nice":false,"zero":false},"axis":null},"text":{"field":"label"}}},
{"data":{"values":[{"label":"(C)","tx":-1.962,"ty":8.26}]},"mark":{"type":"text","font":"Liberation Serif","fontSize":72,"align":"center","baseline":"middle","color":"black"},"encoding":{"x":{"field":"tx","type":"quantitative","scale":{"domain":[0.3349,4.6792],"range":[527,1399],"nice":false,"zero":false},"axis":null},"y":{"field":"ty","type":"quantitative","scale":{"domain":[0,8],"range":[2393,1558],"nice":false,"zero":false},"axis":null},"text":{"field":"label"}}},

{"data":{"name":"D"},"mark":{"type":"point","filled":true,"color":"black","opacity":1,"size":291,"strokeWidth":0},
 "encoding":{
  "x":{"field":"cat","type":"nominal","scale":{"type":"band","domain":["With: Before treatment","With: After treatment","Without: Before treatment","Without: After treatment"],"range":[2599,3443],"paddingInner":0.2622,"paddingOuter":0.3224,"align":0.504},
   "axis":{"orient":"bottom","offset":-485,"title":null,"labelExpr":"split(datum.value, ': ')[1]","labelAngle":-45,"labelFont":"Liberation Sans","labelFontWeight":"bold","labelFontStyle":"italic","labelFontSize":62,"labelPadding":17,"labelLimit":3000,"labelOverlap":false,"labelBound":false,"tickSize":38,"tickWidth":7.6,"domainWidth":9.5}},
  "xOffset":{"field":"slot","type":"quantitative","scale":{"domain":[-2.5,2.5]}},
  "y":{"field":"value","type":"quantitative","scale":{"domain":[0,8],"range":[2405,1525],"nice":false,"zero":false},
   "axis":{"orient":"left","offset":-2599,"values":[0,2,4,6,8],"format":"d","title":"Neutrophils","titleX":-118,"titleY":1966,"titleAngle":-90,"titleAlign":"center","titleBaseline":"middle","titleFont":"Liberation Sans","titleFontWeight":"bold","titleFontSize":68,"labelFont":"Roboto","labelFontWeight":"bold","labelFontSize":50,"labelPadding":11,"tickSize":36,"tickWidth":7.6,"domainWidth":9.5}},
  "shape":{"field":"group","type":"nominal","scale":{"domain":["With Pneumothorax","Without Pneumothorax"],"range":["circle","square"]},
   "legend":{"orient":"none","legendX":3449,"legendY":1529,"direction":"vertical","title":null,"labelFont":"Roboto","labelFontWeight":"bold","labelFontSize":50,"labelColor":"black","labelLimit":3000,"labelOffset":49,"rowPadding":65,"symbolSize":233,"symbolFillColor":"black","symbolStrokeColor":"black","symbolStrokeWidth":0,"padding":0}}}},
{"data":{"name":"Dsum"},"mark":{"type":"tick","color":"black","opacity":1,"thickness":7.6,"size":125},"encoding":{"x":{"field":"cat","type":"nominal","scale":{"type":"band","domain":["With: Before treatment","With: After treatment","Without: Before treatment","Without: After treatment"],"range":[2599,3443],"paddingInner":0.2622,"paddingOuter":0.3224,"align":0.504},"axis":null},"y":{"field":"mean","type":"quantitative","scale":{"domain":[0,8],"range":[2405,1525],"nice":false,"zero":false},"axis":null}}},
{"data":{"name":"Dsum"},"mark":{"type":"rule","color":"black","strokeWidth":3.3},"encoding":{"x":{"field":"cat","type":"nominal","scale":{"type":"band","domain":["With: Before treatment","With: After treatment","Without: Before treatment","Without: After treatment"],"range":[2599,3443],"paddingInner":0.2622,"paddingOuter":0.3224,"align":0.504},"axis":null},"y":{"field":"lo","type":"quantitative","scale":{"domain":[0,8],"range":[2405,1525],"nice":false,"zero":false},"axis":null},"y2":{"field":"hi"}}},
{"data":{"name":"Dsum"},"mark":{"type":"tick","color":"black","opacity":1,"thickness":3.3,"size":63},"encoding":{"x":{"field":"cat","type":"nominal","scale":{"type":"band","domain":["With: Before treatment","With: After treatment","Without: Before treatment","Without: After treatment"],"range":[2599,3443],"paddingInner":0.2622,"paddingOuter":0.3224,"align":0.504},"axis":null},"y":{"field":"lo","type":"quantitative","scale":{"domain":[0,8],"range":[2405,1525],"nice":false,"zero":false},"axis":null}}},
{"data":{"name":"Dsum"},"mark":{"type":"tick","color":"black","opacity":1,"thickness":3.3,"size":63},"encoding":{"x":{"field":"cat","type":"nominal","scale":{"type":"band","domain":["With: Before treatment","With: After treatment","Without: Before treatment","Without: After treatment"],"range":[2599,3443],"paddingInner":0.2622,"paddingOuter":0.3224,"align":0.504},"axis":null},"y":{"field":"hi","type":"quantitative","scale":{"domain":[0,8],"range":[2405,1525],"nice":false,"zero":false},"axis":null}}},
{"data":{"name":"Dbr"},"mark":{"type":"rule","color":"black","strokeWidth":3.3},"encoding":{"x":{"field":"x1","type":"quantitative","scale":{"domain":[0.3064,4.6891],"range":[2599,3443],"nice":false,"zero":false},"axis":null},"x2":{"field":"x2"},"y":{"field":"y","type":"quantitative","scale":{"domain":[0,8],"range":[2405,1525],"nice":false,"zero":false},"axis":null}}},
{"data":{"name":"Dbr"},"mark":{"type":"tick","orient":"vertical","color":"black","opacity":1,"thickness":3.3,"size":38},"encoding":{"x":{"field":"x1","type":"quantitative","scale":{"domain":[0.3064,4.6891],"range":[2599,3443],"nice":false,"zero":false},"axis":null},"y":{"field":"y","type":"quantitative","scale":{"domain":[0,8],"range":[2405,1525],"nice":false,"zero":false},"axis":null}}},
{"data":{"name":"Dbr"},"mark":{"type":"tick","orient":"vertical","color":"black","opacity":1,"thickness":3.3,"size":38},"encoding":{"x":{"field":"x2","type":"quantitative","scale":{"domain":[0.3064,4.6891],"range":[2599,3443],"nice":false,"zero":false},"axis":null},"y":{"field":"y","type":"quantitative","scale":{"domain":[0,8],"range":[2405,1525],"nice":false,"zero":false},"axis":null}}},
{"data":{"name":"Dbr"},"transform":[{"filter":"datum.label == '*'"}],"mark":{"type":"text","font":"Liberation Sans","fontWeight":"bold","fontSize":76,"align":"center","baseline":"alphabetic","color":"black"},"encoding":{"x":{"field":"tx","type":"quantitative","scale":{"domain":[0.3064,4.6891],"range":[2599,3443],"nice":false,"zero":false},"axis":null},"y":{"field":"ty","type":"quantitative","scale":{"domain":[0,8],"range":[2405,1525],"nice":false,"zero":false},"axis":null},"text":{"field":"label"}}},
{"data":{"name":"Dbr"},"transform":[{"filter":"datum.label == 'ns'"}],"mark":{"type":"text","font":"Roboto","fontSize":55,"align":"center","baseline":"alphabetic","color":"black"},"encoding":{"x":{"field":"tx","type":"quantitative","scale":{"domain":[0.3064,4.6891],"range":[2599,3443],"nice":false,"zero":false},"axis":null},"y":{"field":"ty","type":"quantitative","scale":{"domain":[0,8],"range":[2405,1525],"nice":false,"zero":false},"axis":null},"text":{"field":"label"}}},
{"data":{"values":[{"label":"(D)","tx":-1.263,"ty":8.355}]},"mark":{"type":"text","font":"Liberation Serif","fontSize":72,"align":"center","baseline":"middle","color":"black"},"encoding":{"x":{"field":"tx","type":"quantitative","scale":{"domain":[0.3064,4.6891],"range":[2599,3443],"nice":false,"zero":false},"axis":null},"y":{"field":"ty","type":"quantitative","scale":{"domain":[0,8],"range":[2405,1525],"nice":false,"zero":false},"axis":null},"text":{"field":"label"}}}
],
"resolve":{"scale":{"x":"independent","y":"independent","shape":"independent","xOffset":"independent"},"axis":{"x":"independent","y":"independent"},"legend":{"shape":"independent"}}
}
